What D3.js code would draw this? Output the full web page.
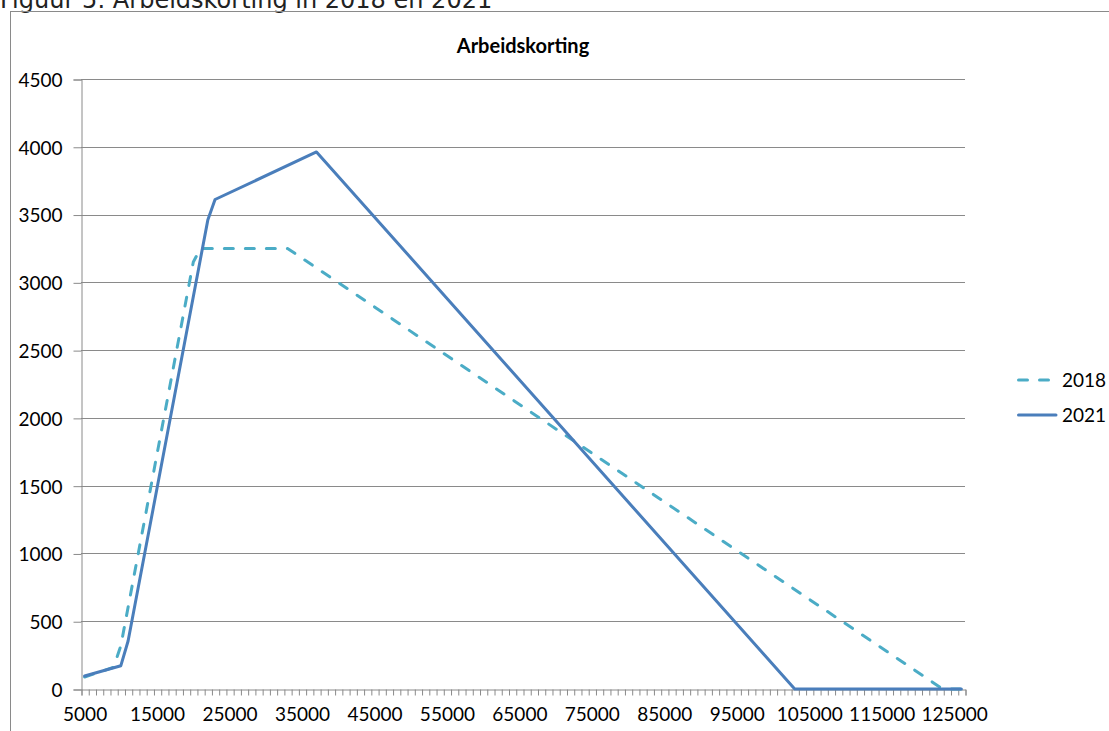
<!DOCTYPE html>
<html>
<head>
<meta charset="utf-8">
<script src="https://cdn.jsdelivr.net/npm/d3@7"></script>
<style>
  body { margin: 0; background: #fff; overflow: hidden; }
  svg { display: block; }
  .caption { font-family: "DejaVu Sans", sans-serif; font-size: 24px; fill: #222; }
  .chart text { font-family: Lato, "Liberation Sans", sans-serif; fill: #000; }
</style>
</head>
<body>
<div id="chart"></div>
<script>
/* -------------------------------------------------------------------------- */
// data (income -> arbeidskorting), breakpoints only
const incomes2018 = [5000, 9000, 10000, 20000, 21000, 33000, 123000, 124000, 126000];
const korting2018 = [88, 160, 320, 3150, 3250, 3250, 15, 0, 0];

const incomes2021 = [5000, 10000, 11000, 22000, 23000, 37000, 103000, 126000];
const korting2021 = [96, 172, 354, 3459, 3611, 3962, 0, 0];

const seriesNames = ['2018', '2021'];
const seriesColors = ['#4bacc6', '#4a7ebb'];

const xLabels = [5000, 15000, 25000, 35000, 45000, 55000, 65000, 75000,
                 85000, 95000, 105000, 115000, 125000];
const yTicks = [0, 500, 1000, 1500, 2000, 2500, 3000, 3500, 4000, 4500];

/* -------------------------------------------------------------------------- */
const W = 1109, H = 731;
const plot = {left: 81, right: 965, top: 79, bottom: 689};
const fmt = d3.format('d');

// category axis: one slot per 1000, points in the middle of the slot
const x = d3.scaleLinear().domain([4500, 126500]).range([plot.left, plot.right]);
const y = d3.scaleLinear().domain([0, 4500]).range([plot.bottom, plot.top]);

const svg = d3.select('#chart').append('svg')
  .attr('width', W).attr('height', H);

svg.append('text').attr('class', 'caption')
  .attr('x', 0).attr('y', 8)
  .text('Figuur 5: Arbeidskorting in 2018 en 2021');

const g = svg.append('g').attr('class', 'chart');

// outer chart frame (runs off the page)
g.append('rect')
  .attr('x', 10.5).attr('y', 11.5)
  .attr('width', 1300).attr('height', 900)
  .attr('fill', 'none').attr('stroke', '#8a8a8a');

g.append('text')
  .attr('x', (plot.left + plot.right) / 2).attr('y', 53)
  .attr('text-anchor', 'middle')
  .style('font-weight', 'bold').style('font-size', '20px')
  .text('Arbeidskorting');

// gridlines
g.append('g').selectAll('line')
  .data(yTicks.filter(d => d > 0))
  .enter().append('line')
  .attr('x1', plot.left).attr('x2', plot.right)
  .attr('y1', d => Math.round(y(d)) + 0.5).attr('y2', d => Math.round(y(d)) + 0.5)
  .attr('stroke', '#8a8a8a');

// y axis
const yAxis = g.append('g')
  .attr('transform', `translate(${plot.left + 0.5},0.5)`)
  .call(d3.axisLeft(y).tickValues(yTicks).tickFormat(fmt).tickSize(8).tickPadding(11));
yAxis.selectAll('text').style('font-size', '19px').attr('dy', '0.36em');

// x axis: tick marks between categories
const xTicks = g.append('g')
  .attr('transform', `translate(0.5,${plot.bottom + 0.5})`)
  .call(d3.axisBottom(x).tickValues(d3.range(4500, 127000, 1000)).tickSize(6).tickFormat(''));

// x axis labels, every tenth category
const xAxis = g.append('g')
  .attr('transform', `translate(0,${plot.bottom})`)
  .call(d3.axisBottom(x).tickValues(xLabels).tickFormat(fmt).tickSize(0).tickPadding(19));
xAxis.select('.domain').remove();
xAxis.selectAll('text').style('font-size', '19px');

[yAxis, xTicks].forEach(a => {
  a.selectAll('.domain, line').attr('stroke', '#8a8a8a');
});

// lines
const line = d3.line().x(d => x(d[0])).y(d => y(d[1]));
const data2018 = incomes2018.map((v, i) => [v, korting2018[i]]);
const data2021 = incomes2021.map((v, i) => [v, korting2021[i]]);

g.append('path').datum(data2018)
  .attr('d', line)
  .attr('fill', 'none').attr('stroke', seriesColors[0])
  .attr('stroke-width', 3).attr('stroke-linecap', 'round')
  .attr('stroke-dasharray', '9,12');

g.append('path').datum(data2021)
  .attr('d', line)
  .attr('fill', 'none').attr('stroke', seriesColors[1])
  .attr('stroke-width', 3).attr('stroke-linejoin', 'round')
  .attr('stroke-linecap', 'round');

/* -------------------------------------------------------------------------- */
// legend
const leg = g.append('g').selectAll('g')
  .data(seriesNames)
  .enter().append('g')
  .attr('transform', (d, i) => `translate(1017,${380 + i * 35})`);

leg.append('line')
  .attr('x1', 1.5).attr('x2', 39)
  .attr('stroke', (d, i) => seriesColors[i])
  .attr('stroke-width', 3).attr('stroke-linecap', 'round')
  .attr('stroke-dasharray', (d, i) => i == 0 ? '9,12' : null);

leg.append('text')
  .attr('x', 45).attr('y', 7)
  .style('font-size', '19px')
  .text(d => d);
</script>
</body>
</html>
